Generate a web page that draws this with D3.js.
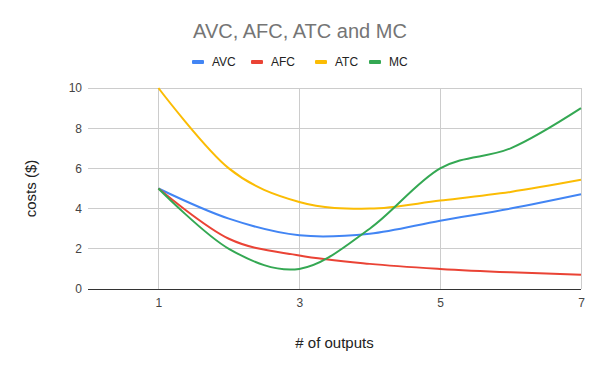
<!DOCTYPE html>
<html><head><meta charset="utf-8">
<script src="https://cdn.jsdelivr.net/npm/d3@7"></script>
<style>body{margin:0;background:#fff}svg{display:block;font-family:"Liberation Sans",Arial,sans-serif}</style>
</head><body>
<svg id="chart" width="600" height="371"></svg>
<script>
const outputs = [1, 2, 3, 4, 5, 6, 7];
const avc = [5, 3.5, 2.67, 2.75, 3.4, 4, 4.71];
const afc = [5, 2.5, 1.67, 1.25, 1, 0.83, 0.71];
const atc = [10, 6, 4.33, 4, 4.4, 4.83, 5.43];
const mc = [5, 2, 1, 3, 6, 7, 9];
const seriesNames = ["AVC", "AFC", "ATC", "MC"];
const seriesColors = ["#4285F4", "#EA4335", "#FBBC04", "#34A853"];
const xTicks = [1, 3, 5, 7];
const yTicks = [0, 2, 4, 6, 8, 10];

const svg = d3.select("#chart");
const x = d3.scaleLinear().domain([0, 7]).range([88, 581]);
const y = d3.scaleLinear().domain([0, 10]).range([289, 88]);

// gridlines
const g = svg.append("g");
g.selectAll("line.h").data(yTicks.filter(d => d !== 0)).join("line")
  .attr("x1", x(0)).attr("x2", x(7)).attr("y1", d => y(d)).attr("y2", d => y(d))
  .attr("stroke", "#cccccc").attr("stroke-width", 1).attr("shape-rendering", "crispEdges");
g.selectAll("line.v").data(xTicks).join("line")
  .attr("x1", d => x(d)).attr("x2", d => x(d)).attr("y1", y(10)).attr("y2", y(0))
  .attr("stroke", "#cccccc").attr("stroke-width", 1).attr("shape-rendering", "crispEdges");

// axes
const yAxis = d3.axisLeft(y).tickValues(yTicks).tickSize(0).tickPadding(6);
const ya = svg.append("g").attr("transform", `translate(${x(0)},0)`).call(yAxis);
ya.select(".domain").remove();
ya.selectAll("text").attr("font-size", 12).attr("fill", "#444").attr("font-family", "Liberation Sans, Arial, sans-serif");

const xAxis = d3.axisBottom(x).tickValues(xTicks).tickSize(0).tickPadding(9).tickFormat(d3.format("d"));
const xa = svg.append("g").attr("transform", `translate(0,${y(0)})`).call(xAxis);
xa.select(".domain").remove();
xa.selectAll("text").attr("font-size", 12).attr("fill", "#444").attr("font-family", "Liberation Sans, Arial, sans-serif");

// series
const allSeries = [avc, afc, atc, mc];
const line = d3.line().x((d, i) => x(outputs[i])).y(d => y(d)).curve(d3.curveCardinal.tension(0));
svg.append("g").selectAll("path").data(allSeries).join("path")
  .attr("d", d => line(d)).attr("fill", "none")
  .attr("stroke", (d, i) => seriesColors[i]).attr("stroke-width", 2);

// baseline
svg.append("line").attr("x1", x(0)).attr("x2", x(7)).attr("y1", y(0)).attr("y2", y(0))
  .attr("stroke", "#333").attr("stroke-width", 1).attr("shape-rendering", "crispEdges");

// title
svg.append("text").attr("x", 300).attr("y", 38).attr("text-anchor", "middle")
  .attr("font-size", 20).attr("fill", "#757575").text("AVC, AFC, ATC and MC");

// legend
const legX = [192, 251, 315, 369];
const leg = svg.append("g");
seriesNames.forEach((n, i) => {
  leg.append("rect").attr("x", legX[i]).attr("y", 60).attr("width", 12).attr("height", 4)
    .attr("rx", 1).attr("fill", seriesColors[i]);
  leg.append("text").attr("x", legX[i] + 20).attr("y", 66).attr("font-size", 12)
    .attr("fill", "#222").text(n);
});

// axis titles
svg.append("text").attr("x", (x(0) + x(7)) / 2).attr("y", 348).attr("text-anchor", "middle")
  .attr("font-size", 15).attr("fill", "#222").text("# of outputs");
svg.append("text").attr("transform", `translate(36,${(y(0) + y(10)) / 2}) rotate(-90)`)
  .attr("text-anchor", "middle").attr("font-size", 15).attr("fill", "#222").text("costs ($)");
</script>
</body></html>
